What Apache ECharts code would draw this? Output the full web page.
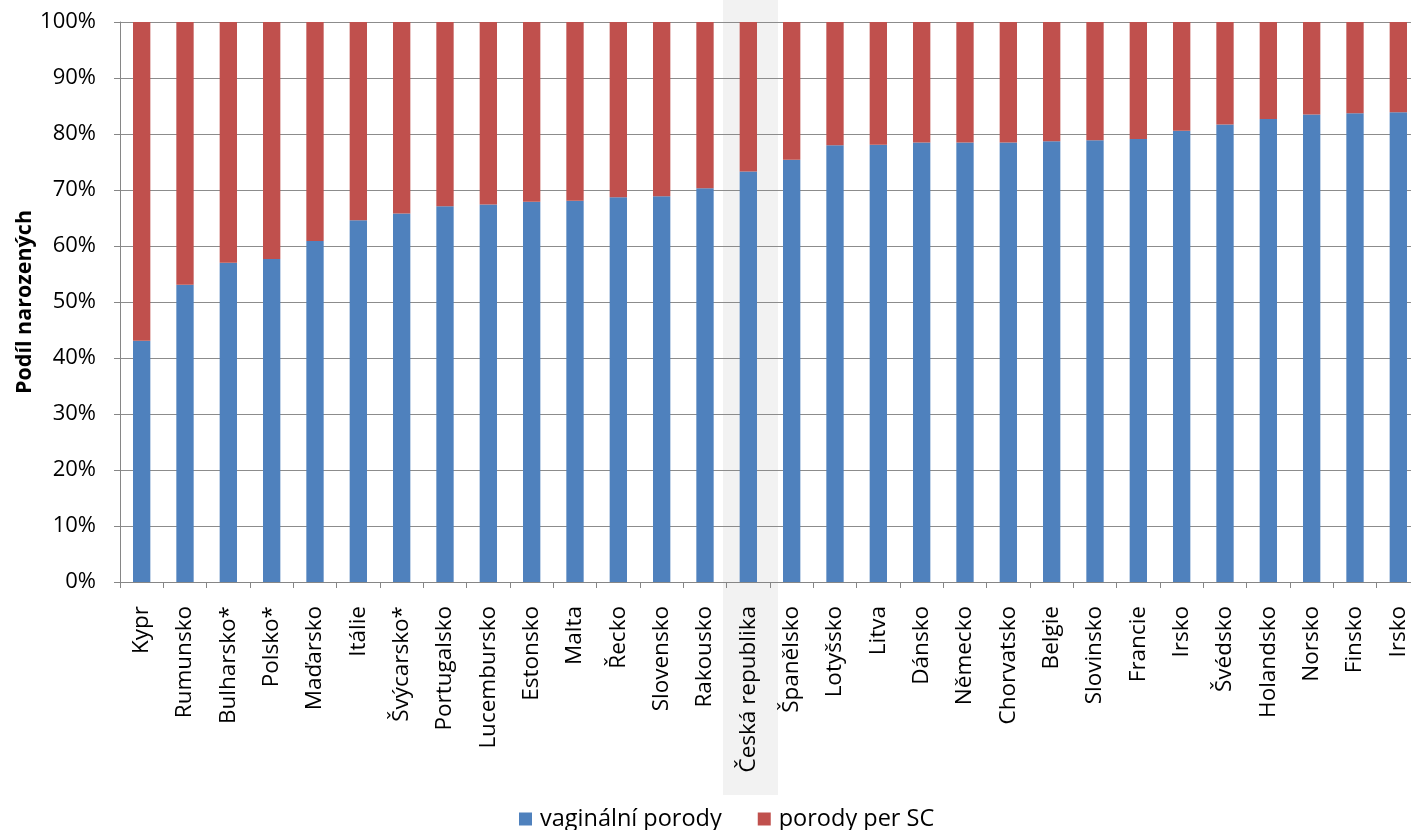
<!DOCTYPE html>
<html>
<head>
<meta charset="utf-8">
<script src="https://cdn.jsdelivr.net/npm/echarts@6/dist/echarts.min.js"></script>
<style>
html,body{margin:0;padding:0;background:#fff;}
#chart{width:1411px;height:830px;}
</style>
</head>
<body>
<div id="chart"></div>
<script>
const categories = ["Kypr","Rumunsko","Bulharsko*","Polsko*","Maďarsko","Itálie","Švýcarsko*","Portugalsko","Lucembursko","Estonsko","Malta","Řecko","Slovensko","Rakousko","Česká republika","Španělsko","Lotyšsko","Litva","Dánsko","Německo","Chorvatsko","Belgie","Slovinsko","Francie","Irsko","Švédsko","Holandsko","Norsko","Finsko","Irsko"];
const vaginal = [43.1,53.1,57.0,57.7,60.9,64.6,65.8,67.1,67.4,67.9,68.1,68.7,68.9,70.3,73.3,75.4,78.0,78.1,78.5,78.5,78.5,78.7,78.9,79.1,80.6,81.7,82.7,83.5,83.7,83.9];
const caesarean = vaginal.map(v => +(100 - v).toFixed(1));
const yTicks = [0,10,20,30,40,50,60,70,80,90,100];
const highlightCategory = "Česká republika";
const seriesNames = ["vaginální porody","porody per SC"];

const FONT = "Open Sans";
const chart = echarts.init(document.getElementById('chart'));
const option = {
  animation: false,
  textStyle: {fontFamily: FONT},
  grid: {left: 120, width: 1300, top: 22, bottom: 248, containLabel: false, outerBoundsMode: 'none'},
  legend: {
    data: seriesNames,
    bottom: -6,
    left: 514,
    icon: 'rect',
    itemWidth: 13,
    itemHeight: 13,
    itemGap: 36,
    textStyle: {fontFamily: FONT, fontSize: 23.5, color: '#000', padding: [0, 0, 0, 3]}
  },
  xAxis: {
    type: 'category',
    data: categories,
    axisLine: {lineStyle: {color: '#868686', width: 1}},
    axisTick: {show: true, length: 6, interval: 0, lineStyle: {color: '#868686'}},
    axisLabel: {interval: 0, rotate: 90, margin: 24, fontSize: 22.5, color: '#000', fontFamily: FONT}
  },
  yAxis: {
    type: 'value',
    min: yTicks[0],
    max: yTicks[yTicks.length - 1],
    interval: 10,
    name: 'Podíl narozených',
    nameLocation: 'middle',
    nameGap: 84,
    nameMoveOverlap: false,
    nameTextStyle: {fontFamily: FONT, fontSize: 21.5, fontWeight: 'bold', color: '#000'},
    axisLine: {show: true, lineStyle: {color: '#868686'}},
    axisTick: {show: true, length: 6, lineStyle: {color: '#868686'}},
    axisLabel: {formatter: '{value}%', fontSize: 22, color: '#000', margin: 24, fontFamily: FONT},
    splitLine: {lineStyle: {color: '#8c8c8c', width: 1}}
  },
  series: [
    {name: seriesNames[0], type: 'bar', stack: 's', data: vaginal, barWidth: '40%',
     itemStyle: {color: '#4F81BD'}},
    {name: seriesNames[1], type: 'bar', stack: 's', data: caesarean, barWidth: '40%',
     itemStyle: {color: '#C0504D'}}
  ]
};
chart.setOption(option);

// highlight band behind the Czech Republic category
const idx = categories.indexOf(highlightCategory);
const cx = chart.convertToPixel({xAxisIndex: 0}, idx);
const catW = chart.convertToPixel({xAxisIndex: 0}, 1) - chart.convertToPixel({xAxisIndex: 0}, 0);
const bandW = catW * 1.27;
const yBottom = chart.convertToPixel({yAxisIndex: 0}, 0);
chart.setOption({
  graphic: [{
    type: 'rect', z: -10, silent: true,
    shape: {x: cx + catW * 0.05 - bandW / 2, y: 0, width: bandW, height: yBottom + 213},
    style: {fill: '#f2f2f2'}
  }]
});
</script>
</body>
</html>
